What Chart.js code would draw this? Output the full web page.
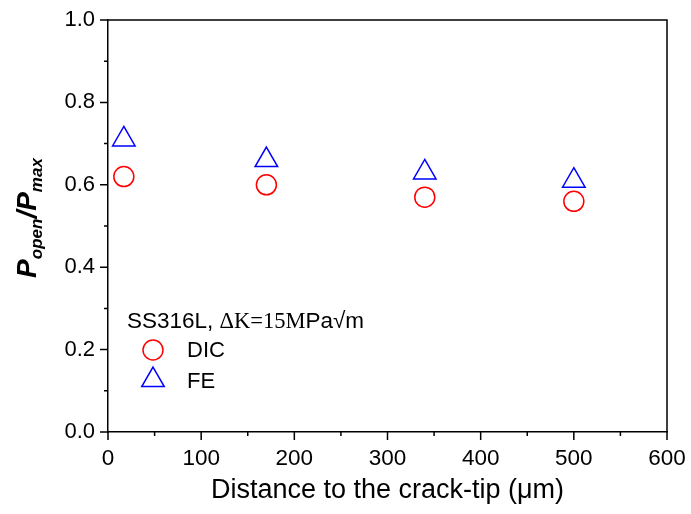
<!DOCTYPE html>
<html>
<head>
<meta charset="utf-8">
<script src="https://cdn.jsdelivr.net/npm/chart.js@4.4.0/dist/chart.umd.min.js"></script>
<style>
  html, body { margin: 0; padding: 0; background: #fff; }
  #wrap { width: 691px; height: 514px; }
</style>
</head>
<body>
<div id="wrap"><canvas id="openChart" width="691" height="514"></canvas></div>
<script>
// distance from crack tip (um) and opening load ratio
const distances = [17, 170, 340, 500];
const dicRatio = [0.62, 0.60, 0.57, 0.56];
const feRatio = [0.71, 0.66, 0.63, 0.61];
const xTicks = [0, 100, 200, 300, 400, 500, 600];
const yTicks = [0.0, 0.2, 0.4, 0.6, 0.8, 1.0];
const xMinor = [50, 150, 250, 350, 450, 550];
const yMinor = [0.1, 0.3, 0.5, 0.7, 0.9];

const SANS = '"Liberation Sans", Arial, sans-serif';
const SERIF = '"Liberation Serif", "Times New Roman", serif';

function toPoints(xs, ys) {
    return xs.map((x, i) => ({ x: x, y: ys[i] }));
}

// frame, tick marks, axis titles and the legend box
const decorations = {
    id: 'decorations',
    afterDraw(chart) {
        const ctx = chart.ctx;
        const area = chart.chartArea;
        const xs = chart.scales.x;
        const ys = chart.scales.y;
        ctx.save();
        ctx.strokeStyle = '#000';
        ctx.lineWidth = 1.5;
        ctx.beginPath();
        ctx.moveTo(area.left, area.top);
        ctx.lineTo(area.right, area.top);
        ctx.lineTo(area.right, area.bottom);
        ctx.stroke();

        ctx.beginPath();
        yTicks.forEach(v => {
            const py = ys.getPixelForValue(v);
            ctx.moveTo(area.left - 8, py);
            ctx.lineTo(area.left, py);
        });
        yMinor.forEach(v => {
            const py = ys.getPixelForValue(v);
            ctx.moveTo(area.left - 4, py);
            ctx.lineTo(area.left, py);
        });
        xTicks.forEach(v => {
            const px = xs.getPixelForValue(v);
            ctx.moveTo(px, area.bottom);
            ctx.lineTo(px, area.bottom + 8);
        });
        xMinor.forEach(v => {
            const px = xs.getPixelForValue(v);
            ctx.moveTo(px, area.bottom);
            ctx.lineTo(px, area.bottom + 4);
        });
        ctx.stroke();

        // x axis title
        ctx.fillStyle = '#000';
        ctx.font = '27px ' + SANS;
        ctx.textAlign = 'center';
        ctx.textBaseline = 'alphabetic';
        ctx.fillText('Distance to the crack-tip (\u03bcm)', (area.left + area.right) / 2, 498);

        // y axis title: P_open / P_max
        const parts = [
            { t: 'P', font: 'italic bold 28px ' + SANS, dy: 0 },
            { t: 'open', font: 'italic bold 17px ' + SANS, dy: 6 },
            { t: '/', font: 'italic bold 28px ' + SANS, dy: 0 },
            { t: 'P', font: 'italic bold 28px ' + SANS, dy: 0 },
            { t: 'max', font: 'italic bold 17px ' + SANS, dy: 6 }
        ];
        let total = 0;
        parts.forEach(p => { ctx.font = p.font; p.w = ctx.measureText(p.t).width; total += p.w; });
        ctx.translate(36, 218);
        ctx.rotate(-Math.PI / 2);
        ctx.textAlign = 'left';
        let cx = -total / 2;
        parts.forEach(p => {
            ctx.font = p.font;
            ctx.fillText(p.t, cx, p.dy);
            cx += p.w;
        });
        ctx.setTransform(1, 0, 0, 1, 0, 0);

        // legend heading
        const heading = [
            { t: 'SS316L, ', font: '22.5px ' + SANS },
            { t: '\u0394K=15M', font: '22.5px ' + SERIF },
            { t: 'Pa\u221am', font: '22.5px ' + SANS }
        ];
        let hx = 127;
        heading.forEach(p => {
            ctx.font = p.font;
            ctx.fillText(p.t, hx, 328);
            hx += ctx.measureText(p.t).width;
        });

        // legend entries, hollow markers like the datasets
        chart.data.datasets.forEach((ds, i) => {
            const ly = i === 0 ? 350 : 380;
            ctx.strokeStyle = ds.borderColor;
            ctx.fillStyle = 'rgba(0,0,0,0)';
            ctx.lineWidth = ds.borderWidth;
            Chart.helpers.drawPoint(ctx, {
                pointStyle: ds.pointStyle,
                radius: ds.pointRadius,
                rotation: 0,
                borderWidth: ds.borderWidth
            }, 153, ly);
            ctx.fillStyle = '#000';
            ctx.font = '22px ' + SANS;
            ctx.fillText(ds.label, 187, i === 0 ? 357 : 388);
        });
        ctx.restore();
    }
};

const ctx = document.getElementById('openChart').getContext('2d');
const openChart = new Chart(ctx, {
    type: 'scatter',
    data: {
        datasets: [{
            label: 'DIC',
            data: toPoints(distances, dicRatio),
            pointStyle: 'circle',
            pointRadius: 10,
            borderColor: '#ff0000',
            backgroundColor: 'rgba(0,0,0,0)',
            borderWidth: 1.5
        }, {
            label: 'FE',
            data: toPoints(distances, feRatio),
            pointStyle: 'triangle',
            pointRadius: 13,
            borderColor: '#0000ff',
            backgroundColor: 'rgba(0,0,0,0)',
            borderWidth: 1.5
        }]
    },
    options: {
        responsive: false,
        animation: false,
        devicePixelRatio: 1,
        layout: { padding: { top: 20, right: 24, left: 0, bottom: 0 } },
        plugins: {
            legend: { display: false },
            tooltip: { enabled: false }
        },
        scales: {
            x: {
                type: 'linear',
                min: 0,
                max: 600,
                afterBuildTicks: s => { s.ticks = xTicks.map(v => ({ value: v })); },
                afterFit: s => { s.height = 82; s.paddingLeft = 0; s.paddingRight = 0; },
                grid: { display: false, drawTicks: false },
                border: { display: true, color: '#000', width: 1.5 },
                ticks: {
                    color: '#000',
                    padding: 13,
                    maxRotation: 0,
                    font: { family: SANS, size: 22.5 },
                    callback: v => String(v)
                }
            },
            y: {
                min: 0,
                max: 1,
                afterBuildTicks: s => { s.ticks = yTicks.map(v => ({ value: v })); },
                afterFit: s => { s.width = 108; s.paddingTop = 0; s.paddingBottom = 0; },
                grid: { display: false, drawTicks: false },
                border: { display: true, color: '#000', width: 1.5 },
                ticks: {
                    color: '#000',
                    padding: 13,
                    font: { family: SANS, size: 22 },
                    callback: v => v.toFixed(1)
                }
            }
        }
    },
    plugins: [decorations]
});
</script>
</body>
</html>
